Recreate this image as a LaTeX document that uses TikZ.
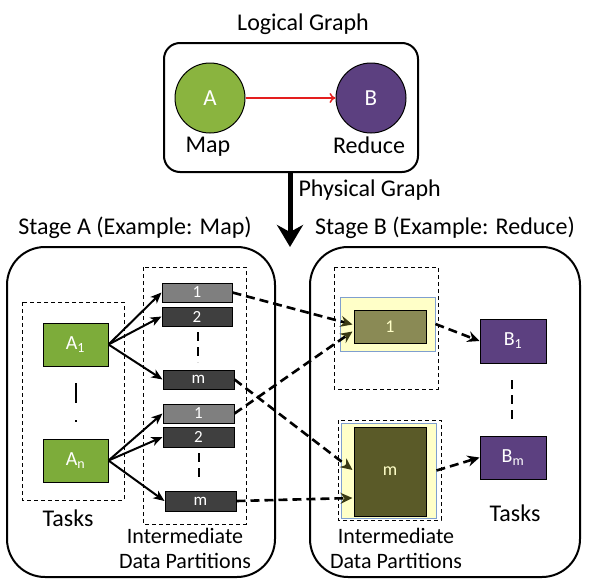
\documentclass[tikz,border=0pt]{standalone}
\usepackage{fontspec}
\setmainfont{Carlito}
\usetikzlibrary{arrows.meta,calc}
\definecolor{mapgreen}{HTML}{8AB43F}
\definecolor{taskgreen}{HTML}{7DAC3A}
\definecolor{redpurple}{HTML}{5C4080}
\definecolor{partgray}{HTML}{7F7F7F}
\definecolor{partdark}{HTML}{3F3F3F}
\definecolor{olivelight}{HTML}{8A8A55}
\definecolor{olivedark}{HTML}{5A5A28}
\definecolor{olivehead}{HTML}{3A3A14}
\definecolor{paleyellow}{HTML}{FFFFC8}
\definecolor{bluegray}{HTML}{7F9FCF}
\definecolor{arrowred}{HTML}{E41E1E}
\tikzset{
  big/.style={font=\fontsize{24}{28}\selectfont},
  mid/.style={font=\fontsize{22}{25}\selectfont},
  rbox/.style={draw=black,line width=2pt,rounded corners=#1},
  circ/.style={circle,draw=black,line width=1pt,minimum size=70pt,inner sep=0pt,text=white,font=\fontsize{23}{24}\selectfont},
  taskbox/.style={draw=black,line width=1pt,minimum width=65pt,minimum height=43pt,inner sep=0pt,text=white,font=\fontsize{20}{22}\selectfont},
  partbox/.style={draw=black,line width=1pt,minimum width=70pt,minimum height=19pt,inner sep=0pt,text=white,font=\fontsize{17}{18}\selectfont},
  dbox/.style={draw=black,dashed,line width=0.8pt,dash pattern=on 4pt off 3pt},
  ybox/.style={draw=bluegray,fill=paleyellow,line width=1pt,inner sep=0pt},
  obox/.style={draw=black,line width=1pt,inner sep=0pt,minimum width=72pt,text=paleyellow,font=\fontsize{18}{20}\selectfont},
  solidarrow/.style={-{Stealth[length=11pt,width=9pt,inset=3pt]},line width=2pt},
  dasharrow/.style={-{Stealth[length=12pt,width=11pt,inset=4pt]},line width=2.6pt,dash pattern=on 9pt off 5pt},
  vdash/.style={line width=2.5pt,dash pattern=on 9pt off 6pt},
}
\begin{document}
\begin{tikzpicture}[x=1pt,y=-1pt]
\useasboundingbox (0,0) rectangle (589,584);
% Logical graph
\node[big] (lgt) at (303,24) {Logical Graph};
\draw[rbox=16pt] (164,43) rectangle (418,172);
\coordinate (lgbot) at (290,172);
\node[circ,fill=mapgreen] (A) at (210,98) {A};
\node[circ,fill=redpurple] (B) at (371,98) {B};
\draw[arrowred,line width=1.5pt,-{To[length=6pt,width=10pt]}] (A) -- (B);
\node[big] (map) at (208,147) {Map};
\node[big] (red) at (369,145) {Reduce};
% physical graph arrow
\coordinate (phend) at (290,247);
\draw[line width=5pt,-{Stealth[length=22pt,width=26pt,inset=7pt]}] (lgbot) -- (phend);
\node[big,anchor=west] (phys) at (295,190) {Physical Graph};
\node[big] (sta) at (135,228) {Stage A (Example: Map)};
\node[big] (stb) at (445,228) {Stage B (Example: Reduce)};
% stage boxes
\draw[rbox=38pt] (7,247) rectangle (275,577);
\draw[rbox=38pt] (310,247) rectangle (580,577);
% Stage A
\draw[dbox] (22,302) rectangle (124,500);
\draw[dbox] (143,267) rectangle (246,524);
\node[taskbox,fill=taskgreen] (A1) at (75.5,344.5) {A\textsubscript{1}};
\node[taskbox,fill=taskgreen] (An) at (75.5,460.5) {A\textsubscript{n}};
\draw[line width=2pt,dash pattern=on 20pt off 17pt on 2pt off 20pt] (76,383) -- (76,423);
\node[big] (tasksA) at (68,518) {Tasks};
\node[partbox,fill=partgray] (p11) at (197,292.5) {1};
\node[partbox,fill=partdark] (p12) at (197,316.5) {2};
\node[partbox,fill=partdark,minimum width=71pt] (p1m) at (198.5,379.5) {m};
\node[partbox,fill=partgray,minimum width=71pt] (p21) at (198.5,413.5) {1};
\node[partbox,fill=partdark,minimum width=71pt,minimum height=20pt] (p22) at (198.5,437) {2};
\node[partbox,fill=partdark,minimum width=71pt,minimum height=20pt] (p2m) at (200.5,501) {m};
\draw[vdash] (198,332) -- (198,362);
\draw[vdash] (199,453) -- (199,481);
\node[mid,align=center] (interA) at (185,548) {Intermediate\\Data Partitions};
\foreach \t in {p11,p12,p1m} \draw[solidarrow] (A1.east) -- (\t.west);
\foreach \t in {p21,p22,p2m} \draw[solidarrow] (An.east) -- (\t.west);
% Stage B
\draw[dbox] (334,267) rectangle (438,389);
\draw[dbox] (338,420) rectangle (441,520);
\node[ybox,minimum width=95pt,minimum height=54pt] (y1) at (387.5,324) {};
\node[ybox,minimum width=95pt,minimum height=95pt] (ym) at (388.5,470.5) {};
\node[obox,fill=olivelight,minimum height=33pt] (in1) at (390,326.5) {1};
\node[obox,fill=olivedark,minimum height=89pt] (inm) at (390,471.5) {m};
\node[taskbox,fill=redpurple,minimum width=66pt,minimum height=44pt] (B1) at (513,341) {B\textsubscript{1}};
\node[taskbox,fill=redpurple,minimum width=66pt,minimum height=43pt] (Bm) at (513,457.5) {B\textsubscript{m}};
\draw[vdash] (512,380) -- (512,420);
\node[big] (tasksB) at (515,513) {Tasks};
\node[mid,align=center] (interB) at (396,548) {Intermediate\\Data Partitions};
% dashed arrows
\coordinate (t11) at ($(in1.west)+(-1,-2)$);
\coordinate (t21) at ($(in1.west)+(-1,5)$);
\coordinate (t1m) at ($(inm.west)+(-1,-1.5)$);
\coordinate (t2m) at ($(inm.west)+(-1,26.5)$);
\draw[dasharrow,-{Stealth[length=12pt,width=11pt,inset=4pt,color=olivehead]}] (p11.east) -- (t11);
\draw[dasharrow,-{Stealth[length=12pt,width=11pt,inset=4pt,color=olivehead]}] (p21.east) -- (t21);
\draw[dasharrow,-{Stealth[length=12pt,width=11pt,inset=4pt,color=olivehead]}] (p1m.east) -- (t1m);
\draw[dasharrow,-{Stealth[length=12pt,width=11pt,inset=4pt,color=olivehead]}] (p2m.east) -- (t2m);
\draw[dasharrow] (y1.east) -- (B1.west);
\draw[dasharrow] (ym.east) -- (Bm.west);
\end{tikzpicture}
\end{document}
